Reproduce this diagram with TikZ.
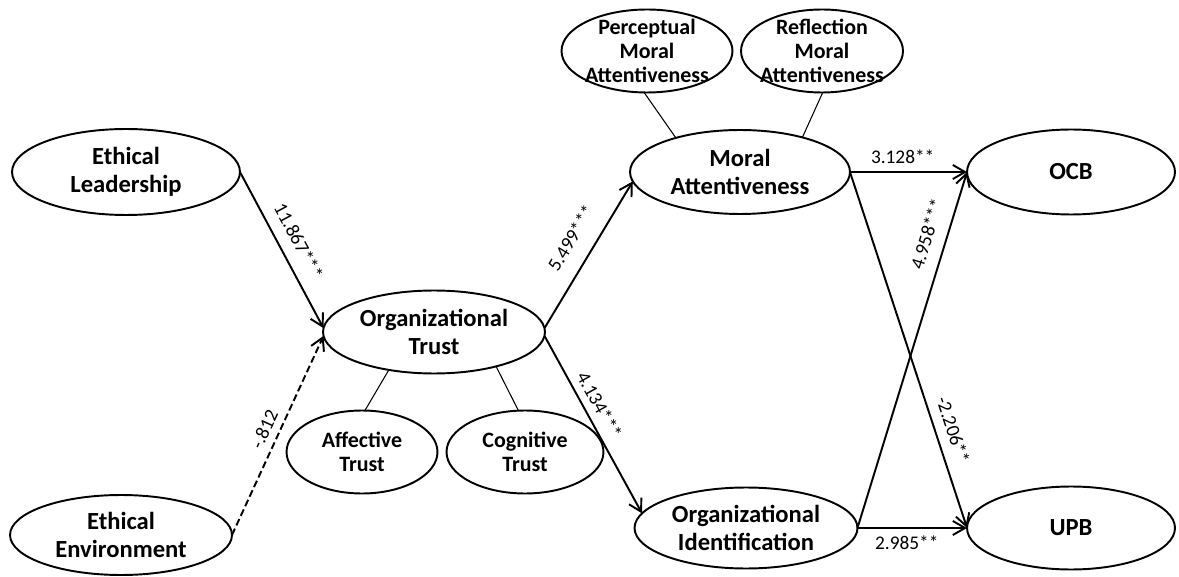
\documentclass[tikz,border=0pt]{standalone}
\usepackage{fontspec}
\setmainfont{Carlito}
\usetikzlibrary{shapes.geometric,arrows.meta}
\begin{document}
\begin{tikzpicture}[x=0.02cm,y=-0.02cm,
  ell/.style={ellipse, draw, line width=1.1pt, inner sep=0pt, outer sep=0pt},
  big/.style={align=center, inner sep=0pt, font=\bfseries\fontsize{14}{16}\selectfont},
  small/.style={align=center, inner sep=0pt, font=\bfseries\fontsize{12.5}{13.5}\selectfont},
  conn/.style={line width=1.1pt, -{Straight Barb[length=7pt,width=8pt]}},
  link/.style={line width=0.6pt},
  coef/.style={font=\fontsize{11}{12}\selectfont, sloped, inner sep=4pt}
]
\useasboundingbox[fill=white] (0,0) rectangle (1179,577);

% antecedents
\node[ell, minimum width=4.56cm, minimum height=1.72cm,
      label={[big]center:Ethical\\Leadership}] (el) at (126,172) {};
\node[ell, minimum width=4.44cm, minimum height=1.60cm,
      label={[big]center:Ethical\\Environment}] (ee) at (121,535) {};

% mediator: trust and its dimensions
\node[ell, minimum width=4.44cm, minimum height=1.66cm,
      label={[big]center:Organizational\\Trust}] (ot) at (434,332) {};
\node[ell, minimum width=3.02cm, minimum height=1.66cm,
      label={[small]center:Affective\\Trust}] (aff) at (362,452) {};
\node[ell, minimum width=3.14cm, minimum height=1.66cm,
      label={[small]center:Cognitive\\Trust}] (cog) at (525,452) {};

% moral attentiveness and its dimensions
\node[ell, minimum width=4.40cm, minimum height=1.68cm,
      label={[big]center:Moral\\Attentiveness}] (ma) at (740,172) {};
\node[ell, minimum width=3.42cm, minimum height=1.66cm,
      label={[small]center:Perceptual\\Moral\\Attentiveness}] (perc) at (647,51) {};
\node[ell, minimum width=3.24cm, minimum height=1.66cm,
      label={[small]center:Reflection\\Moral\\Attentiveness}] (refl) at (822,51) {};

% identification
\node[ell, minimum width=4.46cm, minimum height=1.62cm,
      label={[big]center:Organizational\\Identification}] (oi) at (746,528) {};

% outcomes
\node[ell, minimum width=4.16cm, minimum height=1.70cm,
      label={[big]center:OCB}] (ocb) at (1071,172) {};
\node[ell, minimum width=4.16cm, minimum height=1.66cm,
      label={[big]center:UPB}] (upb) at (1071,528) {};

% dimension links
\draw[link] (perc.266) -- (ma.152);
\draw[link] (refl.271) -- (ma.29);
\draw[link] (aff.86) -- (ot.220);
\draw[link] (cog.99) -- (ot.331);

% structural paths
\draw[conn] (el.east) -- node[coef, above, pos=0.5, inner sep=6.5pt] {11.867***} (ot.178);
\draw[conn, dash pattern=on 4pt off 2pt] (ee.east) -- node[coef, above, pos=0.5] {-.812} (ot.182);
\draw[conn] (ot.2) -- node[coef, above, pos=0.53, inner sep=9pt] {5.499***} (ma.185);
\draw[conn] (ot.-2) -- node[coef, above, pos=0.43] {4.134***} (oi.172);
\draw[conn] (ma.east) -- node[coef, above, pos=0.45] {3.128**} (ocb.west);
\draw[conn] (oi.east) -- node[coef, below, pos=0.45] {2.985**} (upb.west);
\draw[conn] (oi.east) -- node[coef, above, pos=0.81, inner sep=7pt] {4.958***} (ocb.west);
\draw[conn] (ma.east) -- node[coef, above, pos=0.74, inner sep=5.5pt] {-2.206**} (upb.west);
\end{tikzpicture}
\end{document}
